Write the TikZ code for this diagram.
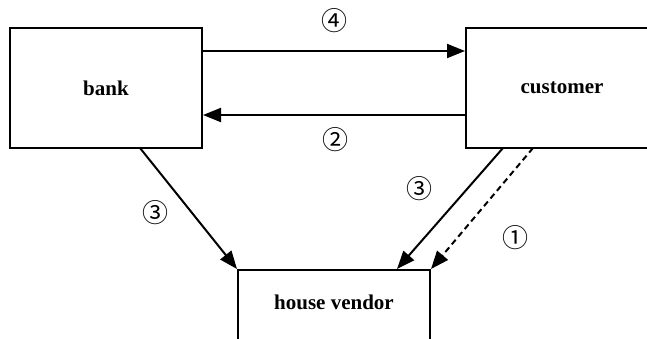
\documentclass[tikz,border=0pt]{standalone}
\usepackage{fontspec}
\setmainfont{Liberation Serif}
\newfontfamily\circfont{Noto Sans CJK SC}
\usetikzlibrary{arrows.meta}
\tikzset{
  box/.style={draw, line width=2pt, minimum width=192pt, minimum height=120pt, inner sep=0pt, font=\fontsize{21}{25}\selectfont\bfseries},
  lbl/.style={font=\fontsize{21}{25}\selectfont\bfseries, inner sep=0pt},
  num/.style={font=\circfont\fontsize{26}{30}\selectfont, inner sep=0pt},
  conn/.style={line width=2pt, -{Triangle[length=18pt,width=14pt]}},
}
\begin{document}
\begin{tikzpicture}[x=1pt,y=-1pt]
\useasboundingbox (0,0) rectangle (647,338);
\clip (0,0) rectangle (647,338);
\node[box] (bank) at (106,88) {bank};
\node[box] (cust) at (562,88) {customer};
\node[box, minimum height=140pt, anchor=north] (hv) at (334,269) {};
\node[lbl] (hvt) at (334,302) {house vendor};
\coordinate (b1) at (bank.east |- 0,51);
\coordinate (c1) at (cust.west |- 0,51);
\coordinate (b2) at (bank.east |- 0,115);
\coordinate (c2) at (cust.west |- 0,115);
\coordinate (bs) at (140,148);
\coordinate (cs1) at (503,148);
\coordinate (cs2) at (533,148);
\coordinate (ht) at (397,269);
\draw[conn] (b1) -- (c1);
\draw[conn] (c2) -- (b2);
\draw[conn] (bs) -- (hv.north west);
\draw[conn] (cs1) -- (ht);
\draw[conn, dash pattern=on 6pt off 4pt] (cs2) -- (hv.north east);
\node[num] (n4) at (334,21) {④};
\node[num] (n2) at (335,140) {②};
\node[num] (n3a) at (155,213) {③};
\node[num] (n3b) at (419,189) {③};
\node[num] (n1) at (515,238) {①};
\end{tikzpicture}
\end{document}
